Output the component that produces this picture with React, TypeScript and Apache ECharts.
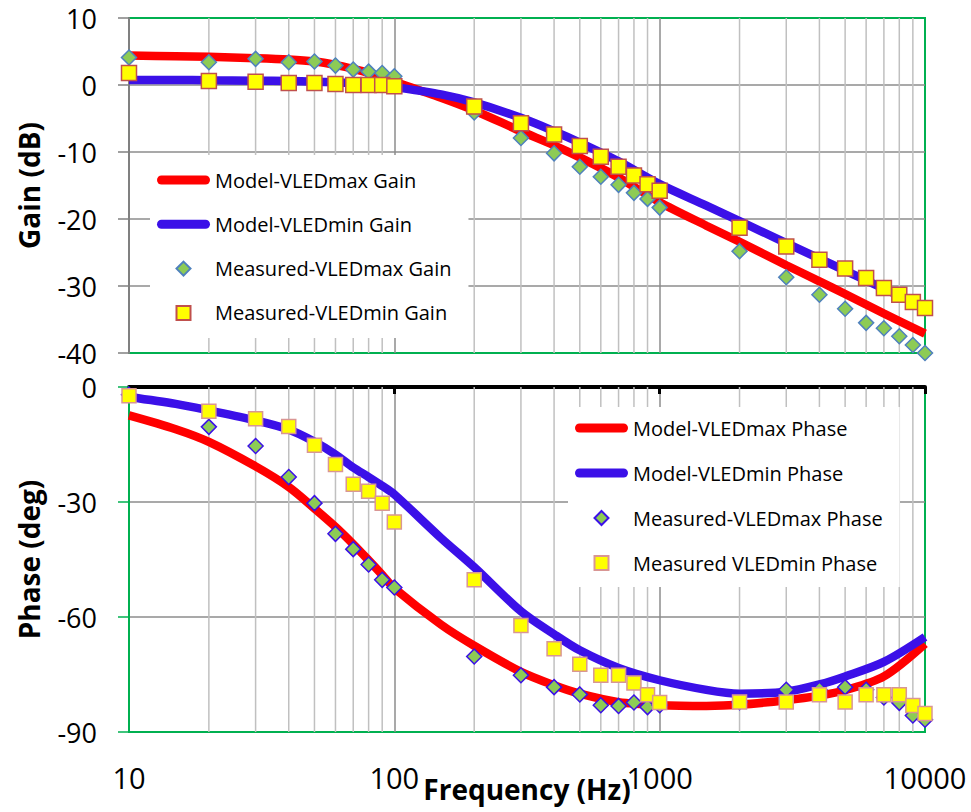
import React, { useEffect, useRef } from 'react';
import * as echarts from 'echarts';

// ---------- data ----------
const measuredFreq = [10, 20, 30, 40, 50, 60, 70, 80, 90, 100, 200, 300, 400, 500, 600, 700, 800, 900, 1000, 2000, 3000, 4000, 5000, 6000, 7000, 8000, 9000, 10000];
const gainMeasuredMax = [4.1, 3.4, 3.9, 3.4, 3.5, 2.9, 2.3, 2.0, 1.8, 1.3, -4.1, -7.9, -10.2, -12.2, -13.7, -14.9, -16.1, -17.0, -18.3, -24.8, -28.7, -31.3, -33.4, -35.5, -36.3, -37.5, -38.8, -40.0];
const gainMeasuredMin = [1.8, 0.6, 0.5, 0.3, 0.3, 0.15, 0, 0, 0, -0.2, -3.2, -5.7, -7.4, -9.1, -10.7, -12.2, -13.5, -14.8, -15.8, -21.3, -24.1, -26.1, -27.4, -28.8, -30.3, -31.3, -32.4, -33.3];
const phaseMeasuredMax = [-2, -10.4, -15.4, -23.5, -30.3, -38.3, -42.3, -46.3, -50.3, -52.3, -70.3, -75.2, -78.3, -80.2, -83.0, -83.2, -82.3, -83.5, -83.0, -82.2, -79.0, -79.0, -78.3, -79.0, -81.0, -82.4, -85.7, -86.8];
const phaseMeasuredMin = [-2.3, -6.3, -8.3, -10.3, -15.2, -20.2, -25.4, -27.2, -30.3, -35.2, -50.3, -62.2, -68.3, -72.3, -75.2, -75.2, -77.2, -80.3, -82.3, -82.2, -82.2, -80.3, -82.2, -80.3, -80.3, -80.3, -83.1, -85.2];

const modelFreq = [10, 15, 20, 30, 40, 50, 60, 70, 80, 90, 100, 150, 200, 300, 400, 500, 700, 1000, 1500, 2000, 3000, 4000, 5000, 7000, 10000];
const gainModelMax = [4.4, 4.3, 4.2, 4.0, 3.8, 3.5, 3.0, 2.4, 1.8, 1.1, 0.5, -1.9, -3.8, -6.9, -9.0, -10.8, -13.8, -17.5, -21.0, -23.4, -26.9, -29.3, -31.2, -34.1, -37.1];
const gainModelMin = [0.75, 0.75, 0.7, 0.65, 0.6, 0.5, 0.4, 0.3, 0.1, -0.1, -0.3, -1.4, -2.6, -4.9, -6.9, -8.6, -11.4, -14.8, -18.0, -20.3, -23.6, -25.9, -27.7, -30.4, -33.2];
const phaseModelMax = [-7.4, -11.0, -14.3, -20.7, -26.1, -31.7, -36.5, -41.0, -45.2, -49.0, -52.5, -62.0, -67.5, -74.3, -77.8, -80.0, -82.2, -83.0, -83.2, -82.9, -81.7, -80.5, -79.1, -75.5, -67.0];
const phaseModelMin = [-2.6, -4.4, -6.1, -8.7, -11.1, -14.3, -17.6, -21.0, -23.5, -25.8, -28.0, -39.4, -47.0, -58.5, -64.5, -68.7, -73.3, -76.5, -79.0, -80.0, -79.5, -77.6, -75.5, -71.7, -65.2];

const minorGridFreq = [20, 30, 40, 50, 60, 70, 80, 90, 200, 300, 400, 500, 600, 700, 800, 900, 2000, 3000, 4000, 5000, 6000, 7000, 8000, 9000];
const gainRange = [-40, 10];
const phaseRange = [-90, 0];

const gainNames = ['Model-VLEDmax Gain', 'Model-VLEDmin Gain', 'Measured-VLEDmax Gain', 'Measured-VLEDmin Gain'];
const phaseNames = ['Model-VLEDmax Phase', 'Model-VLEDmin Phase', 'Measured-VLEDmax Phase', 'Measured VLEDmin Phase'];

// ---------- styles ----------
const FONT = "'Open Sans', 'Liberation Sans', sans-serif";
const RED = '#FF0000';
const BLUE = '#3B10E8';
const GREEN_FILL = '#8DCB55';
const YELLOW = '#FFFF00';
const BORDER_GREEN = '#00B050';
const GRID_MAJOR = '#8C8C8C';
const GRID_MINOR = '#C0C0C0';
// legend icons (path icons keep their aspect ratio inside the legend item box)
const LINE_ICON = 'path://M4.5,0 L48.5,0 A4.5,4.5 0 0 1 48.5,9 L4.5,9 A4.5,4.5 0 0 1 4.5,0 Z';
const DIAMOND_ICON = 'path://M7,0 L14,7 L7,14 L0,7 Z';
const SQUARE_ICON = 'path://M0,0 L14,0 L14,14 L0,14 Z';

const zip = (xs: number[], ys: number[]) => xs.map((x, i) => [x, ys[i]]);

const gridSeries = (idx: number, range: number[]) => ({
  type: 'custom',
  xAxisIndex: idx === 0 ? 0 : 1,
  yAxisIndex: idx,
  z: 1,
  silent: true,
  clip: false,
  data: minorGridFreq.map((f) => [f, range[0]]),
  encode: { x: 0, y: 1 },
  renderItem: (_p: any, api: any) => {
    const f = api.value(0);
    const a = api.coord([f, range[1]]);
    const b = api.coord([f, range[0]]);
    return {
      type: 'line',
      shape: { x1: a[0], y1: a[1], x2: b[0], y2: b[1] },
      style: { stroke: GRID_MINOR, lineWidth: 1.5 },
    };
  },
});

const lineSeries = (name: string, xi: number, yi: number, ys: number[], color: string) => ({
  type: 'line',
  name,
  xAxisIndex: xi,
  yAxisIndex: yi,
  data: zip(modelFreq, ys),
  smooth: 0.3,
  symbol: 'none',
  showSymbol: false,
  clip: false,
  z: 2,
  lineStyle: { color, width: 8.5, cap: 'butt' },
  itemStyle: { color },
});

const scatterSeries = (name: string, xi: number, yi: number, ys: number[], symbol: string, size: number, fill: string, border: string, z: number) => ({
  type: 'scatter',
  name,
  xAxisIndex: xi,
  yAxisIndex: yi,
  data: zip(measuredFreq, ys),
  symbol,
  symbolSize: size,
  clip: false,
  z,
  itemStyle: { color: fill, borderColor: border, borderWidth: 1.5, opacity: 1 },
});

const legendData = (names: string[]) => [
  { name: names[0], icon: LINE_ICON },
  { name: names[1], icon: LINE_ICON },
  { name: names[2], icon: DIAMOND_ICON },
  { name: names[3], icon: SQUARE_ICON },
];

export default function App() {
  const ref = useRef<HTMLDivElement>(null);

  useEffect(() => {
    if (!ref.current) return;
    const chart = echarts.init(ref.current, undefined, { renderer: 'svg' });

    const legendCommon = {
      orient: 'vertical',
      itemWidth: 53,
      itemHeight: 14,
      symbolKeepAspect: true,
      selectedMode: false,
      backgroundColor: '#FFFFFF',
      textStyle: { fontFamily: FONT, fontSize: 20, color: '#000' },
    };

    const option: any = {
      animation: false,
      backgroundColor: '#FFFFFF',
      textStyle: { fontFamily: FONT },
      grid: [
        { left: 129, top: 18, width: 796, height: 335, show: true, borderColor: BORDER_GREEN, borderWidth: 2, backgroundColor: 'transparent' },
        { left: 129, top: 387, width: 796, height: 345, show: true, borderColor: BORDER_GREEN, borderWidth: 2, backgroundColor: 'transparent' },
      ],
      legend: [
        {
          ...legendCommon,
          data: legendData(gainNames),
          left: 150,
          top: 155,
          itemGap: 24.3,
          padding: [15, 17, 15, 7],
        },
        {
          ...legendCommon,
          data: legendData(phaseNames),
          left: 568,
          top: 407,
          itemGap: 25,
          padding: [11, 17, 14, 7],
        },
      ],
      xAxis: [
        {
          type: 'log', logBase: 10, gridIndex: 0, min: 10, max: 10000,
          axisLine: { show: false }, axisTick: { show: false }, axisLabel: { show: false },
          splitLine: { show: true, showMinLine: false, showMaxLine: false, lineStyle: { color: GRID_MAJOR, width: 1.5 } },
        },
        {
          type: 'log', logBase: 10, gridIndex: 1, min: 10, max: 10000, position: 'top',
          axisLine: { show: true, onZero: false, lineStyle: { color: '#000', width: 4 } },
          axisTick: { show: true, inside: true, length: 7, lineStyle: { color: '#000', width: 3 } },
          axisLabel: { show: false },
          splitLine: { show: true, showMinLine: false, showMaxLine: false, lineStyle: { color: GRID_MAJOR, width: 1.5 } },
        },
        {
          type: 'log', logBase: 10, gridIndex: 1, min: 10, max: 10000, position: 'bottom',
          axisLine: { show: false }, axisTick: { show: false }, splitLine: { show: false },
          axisLabel: { show: true, fontSize: 29, color: '#000', margin: 31, fontFamily: FONT, formatter: (v: number) => String(Math.round(v)) },
          name: 'Frequency (Hz)', nameLocation: 'middle', nameGap: 43, nameMoveOverlap: false,
          nameTextStyle: { fontSize: 28, fontWeight: 'bold', color: '#000', fontFamily: FONT },
        },
      ],
      yAxis: [
        {
          type: 'value', gridIndex: 0, min: gainRange[0], max: gainRange[1], interval: 10,
          axisLine: { show: true, onZero: false, lineStyle: { color: '#808080', width: 2 } },
          axisTick: { show: true, inside: false, length: 11, lineStyle: { color: '#808080', width: 1.5 } },
          axisLabel: { fontSize: 27, lineHeight: 26, color: '#000', margin: 32, fontFamily: FONT },
          splitLine: { show: true, showMinLine: false, showMaxLine: false, lineStyle: { color: GRID_MAJOR, width: 1.5 } },
          name: 'Gain (dB)', nameLocation: 'middle', nameGap: 86, nameMoveOverlap: false,
          nameTextStyle: { fontSize: 28, fontWeight: 'bold', color: '#000', fontFamily: FONT },
        },
        {
          type: 'value', gridIndex: 1, min: phaseRange[0], max: phaseRange[1], interval: 30,
          axisLine: { show: true, onZero: false, lineStyle: { color: BORDER_GREEN, width: 2 } },
          axisTick: { show: true, inside: false, length: 11, lineStyle: { color: BORDER_GREEN, width: 1.5 } },
          axisLabel: { fontSize: 27, lineHeight: 26, color: '#000', margin: 32, fontFamily: FONT },
          splitLine: { show: true, showMinLine: false, showMaxLine: false, lineStyle: { color: GRID_MAJOR, width: 1.5 } },
          name: 'Phase (deg)', nameLocation: 'middle', nameGap: 86, nameMoveOverlap: false,
          nameTextStyle: { fontSize: 28, fontWeight: 'bold', color: '#000', fontFamily: FONT },
        },
      ],
      series: [
        gridSeries(0, gainRange),
        lineSeries(gainNames[0], 0, 0, gainModelMax, RED),
        lineSeries(gainNames[1], 0, 0, gainModelMin, BLUE),
        scatterSeries(gainNames[2], 0, 0, gainMeasuredMax, 'diamond', 15, GREEN_FILL, '#4F81BD', 3),
        scatterSeries(gainNames[3], 0, 0, gainMeasuredMin, 'rect', 15, YELLOW, '#C0504D', 4),
        gridSeries(1, phaseRange),
        lineSeries(phaseNames[0], 1, 1, phaseModelMax, RED),
        lineSeries(phaseNames[1], 1, 1, phaseModelMin, BLUE),
        scatterSeries(phaseNames[2], 1, 1, phaseMeasuredMax, 'diamond', 15, GREEN_FILL, BLUE, 3),
        scatterSeries(phaseNames[3], 1, 1, phaseMeasuredMin, 'rect', 14, YELLOW, '#D99694', 4),
      ],
    };

    chart.setOption(option);
    return () => chart.dispose();
  }, []);

  return (
    <div
      ref={ref}
      style={{ position: 'fixed', left: 0, top: 0, width: 971, height: 812, background: '#fff' }}
    />
  );
}
